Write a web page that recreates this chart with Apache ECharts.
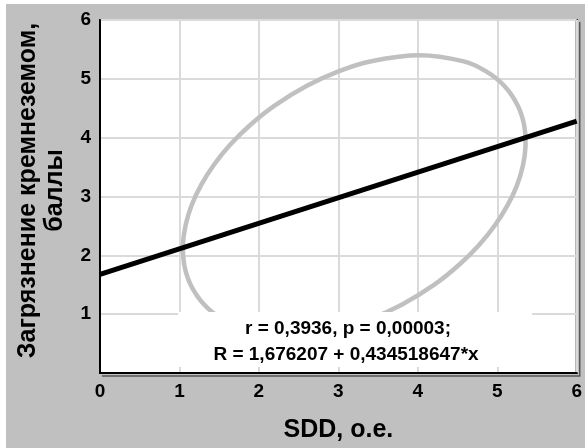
<!DOCTYPE html>
<html>
<head>
<meta charset="utf-8">
<script src="https://cdn.jsdelivr.net/npm/echarts@6/dist/echarts.min.js"></script>
<style>
html,body{margin:0;padding:0;background:#ffffff;}
#c{width:585px;height:448px;}
</style>
</head>
<body>
<div id="c"></div>
<script>
// ---- data ----
const xTickValues = [0, 1, 2, 3, 4, 5, 6];
const yTickLabels = ['', '1', '2', '3', '4', '5', '6'];
const fitLineX = [0, 6];
const fitLineY = [1.676, 4.283];
// confidence ellipse outline, points read around the grey curve
const ellipseX = [2.375, 1.834, 1.546, 1.310, 1.140, 1.060, 1.044, 1.078, 1.153, 1.270, 1.428, 1.629, 1.880, 2.193, 2.598, 3.009, 3.414, 4.025, 4.566, 4.854, 5.090, 5.260, 5.340, 5.356, 5.323, 5.248, 5.130, 4.973, 4.771, 4.520, 4.208, 3.803, 3.391, 2.986];
const ellipseY = [0.641, 0.743, 0.911, 1.165, 1.502, 1.840, 2.177, 2.515, 2.852, 3.190, 3.527, 3.865, 4.203, 4.540, 4.878, 5.131, 5.300, 5.401, 5.300, 5.131, 4.878, 4.540, 4.203, 3.865, 3.527, 3.190, 2.852, 2.515, 2.177, 1.840, 1.502, 1.165, 0.911, 0.743];
const statLine1 = 'r = 0,3936, p = 0,00003;';
const statLine2 = 'R = 1,676207 + 0,434518647*x';
const xName = 'SDD, o.e.';
const yName = 'Загрязнение кремнеземом,\nбаллы';

const FONT = '"Liberation Sans", Arial, sans-serif';
const chart = echarts.init(document.getElementById('c'));

function closedCurvePath(pts) {
  const n = pts.length;
  let d = 'M' + pts[0][0] + ' ' + pts[0][1];
  for (let i = 0; i < n; i++) {
    const p0 = pts[(i - 1 + n) % n], p1 = pts[i], p2 = pts[(i + 1) % n], p3 = pts[(i + 2) % n];
    const c1 = [p1[0] + (p2[0] - p0[0]) / 6, p1[1] + (p2[1] - p0[1]) / 6];
    const c2 = [p2[0] - (p3[0] - p1[0]) / 6, p2[1] - (p3[1] - p1[1]) / 6];
    d += ' C' + c1[0] + ' ' + c1[1] + ' ' + c2[0] + ' ' + c2[1] + ' ' + p2[0] + ' ' + p2[1];
  }
  return d + ' Z';
}

const option = {
  backgroundColor: '#ffffff',
  animation: false,
  grid: {
    left: 100, top: 20, width: 480, height: 355.5,
    show: true, backgroundColor: '#ffffff', borderColor: '#000000', borderWidth: 2
  },
  xAxis: {
    type: 'value', min: 0, max: 6, interval: 1,
    name: xName, nameLocation: 'middle', nameGap: 45,
    nameTextStyle: { fontFamily: FONT, fontWeight: 'bold', fontSize: 25, color: '#000' },
    axisLine: { show: true, lineStyle: { color: '#000', width: 2 } },
    axisTick: { show: false },
    axisLabel: { fontFamily: FONT, fontWeight: 'bold', fontSize: 19, color: '#000', margin: 9,
      formatter: v => String(xTickValues[Math.round(v)]) },
    splitLine: { show: true, lineStyle: { color: '#dadada', width: 2 } }
  },
  yAxis: {
    type: 'value', min: 0, max: 6, interval: 1,
    name: yName, nameLocation: 'middle', nameGap: 31,
    nameTextStyle: { fontFamily: FONT, fontWeight: 'bold', fontSize: 25, color: '#000', lineHeight: 27,
      padding: [0, 0, 0, 12] },
    axisLine: { show: true, lineStyle: { color: '#000', width: 2 } },
    axisTick: { show: false },
    axisLabel: { fontFamily: FONT, fontWeight: 'bold', fontSize: 19, color: '#000', margin: 9,
      formatter: v => yTickLabels[Math.round(v)] },
    splitLine: { show: true, lineStyle: { color: '#dadada', width: 2 } }
  },
  series: [
    {
      type: 'custom', name: 'ellipse', z: 2,
      data: [[ellipseX[0], ellipseY[0]]],
      renderItem: function (params, api) {
        const pts = ellipseX.map((x, i) => api.coord([x, ellipseY[i]]));
        return {
          type: 'path',
          shape: { pathData: closedCurvePath(pts) },
          style: { stroke: '#c0c0c0', lineWidth: 4.5, fill: null }
        };
      }
    },
    {
      type: 'line', name: 'fit', symbol: 'none',
      data: fitLineX.map((x, i) => [x, fitLineY[i]]),
      lineStyle: { color: '#000000', width: 5 }, z: 3
    }
  ]
};
chart.setOption(option);

// decorations relative to the plot frame
const p00 = chart.convertToPixel({ gridIndex: 0 }, [0, 0]);
const p66 = chart.convertToPixel({ gridIndex: 0 }, [6, 6]);
const L = p00[0], B = p00[1], R = p66[0], T = p66[1];
chart.setOption({
  graphic: [
    { type: 'rect', z: -100, silent: true,
      shape: { x: 6, y: 4, width: 585, height: 448 }, style: { fill: '#c0c0c0' } },
    { type: 'polyline', z: 100, silent: true,
      shape: { points: [[R + 3, T + 2], [R + 3, B + 3], [L + 2, B + 3]] },
      style: { stroke: '#555555', lineWidth: 1.5, fill: null } },
    { type: 'rect', z: 50, silent: true,
      shape: { x: 178, y: 312, width: 354, height: 55 }, style: { fill: '#ffffff' } },
    { type: 'text', z: 51, silent: true, x: 348, y: 329,
      style: { text: statLine1, font: 'bold 19px ' + FONT, fill: '#000', align: 'center', verticalAlign: 'middle' } },
    { type: 'text', z: 51, silent: true, x: 346, y: 355,
      style: { text: statLine2, font: 'bold 19px ' + FONT, fill: '#000', align: 'center', verticalAlign: 'middle' } }
  ]
});
</script>
</body>
</html>
